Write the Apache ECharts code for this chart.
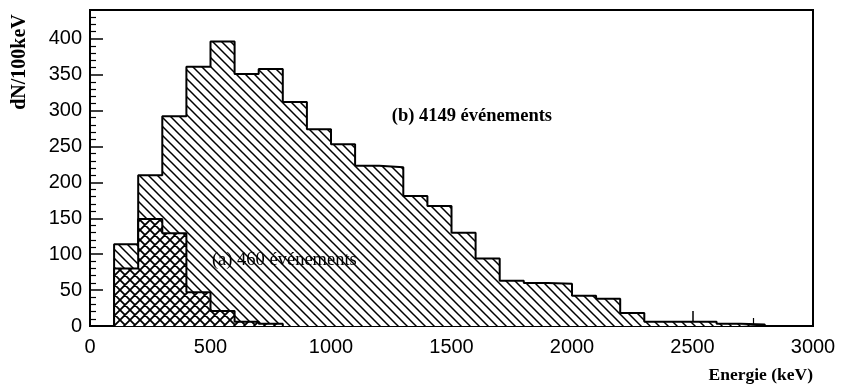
<!DOCTYPE html>
<html><head><meta charset="utf-8">
<script src="https://cdn.jsdelivr.net/npm/echarts@6/dist/echarts.min.js"></script>
<style>html,body{margin:0;padding:0;background:#fff}#c{width:842px;height:390px}</style>
</head><body><div id="c"></div>
<script>
// ---- data (100 keV bins, value = counts per bin, bin given by its lower edge in keV)
const binWidth = 100;
const binStartsB = [100,200,300,400,500,600,700,800,900,1000,1100,1200,1300,1400,1500,1600,1700,1800,1900,2000,2100,2200,2300,2400,2500,2600,2700];
const countsB    = [114,210,292,361,396,351,358,312,274,253,223,221,181,167,130,94,63,60,59,42,38,18,6,6,6,3,2];
const binStartsA = [100,200,300,400,500,600,700];
const countsA    = [80,149,129,47,21,6,3];
const labelB = '(b) 4149 événements';
const labelA = '(a) 460 événements';
const yName = 'dN/100keV';
const xName = 'Energie (keV)';

function stepPoints(starts, vals, w) {
  const pts = [[starts[0], 0]];
  for (let i = 0; i < starts.length; i++) pts.push([starts[i], vals[i]]);
  const end = starts[starts.length - 1] + w;
  pts.push([end, vals[vals.length - 1]]);
  pts.push([end, 0]);
  return pts;
}

function makePattern(size, lw, back, fwd, bg) {
  const c = document.createElement('canvas');
  c.width = size; c.height = size;
  const ctx = c.getContext('2d');
  if (bg) { ctx.fillStyle = bg; ctx.fillRect(0, 0, size, size); }
  ctx.strokeStyle = '#000';
  ctx.lineWidth = lw;
  ctx.beginPath();
  for (const k of [-size, 0, size]) {
    if (back) { ctx.moveTo(k - 2, -2); ctx.lineTo(k + size + 2, size + 2); }
  }
  for (const k of [0, size, 2 * size]) {
    if (fwd) { ctx.moveTo(k + 2, -2); ctx.lineTo(k - size - 2, size + 2); }
  }
  ctx.stroke();
  return { image: c, repeat: 'repeat' };
}

const hatchB = makePattern(9, 1.5, true, false, '#fff');
const hatchA = makePattern(10, 1.8, true, true, '#fff');

const chart = echarts.init(document.getElementById('c'), null, { renderer: 'canvas' });
const tickFont = { fontSize: 20, color: '#000', fontFamily: 'Liberation Sans, Arial, sans-serif' };

chart.setOption({
  animation: false,
  backgroundColor: '#fff',
  grid: { left: 90, right: 29, top: 10, bottom: 64, show: true, borderColor: '#000', borderWidth: 2, backgroundColor: 'transparent' },
  xAxis: {
    type: 'value', min: 0, max: 3000, interval: 500,
    axisLine: { show: true, onZero: false, lineStyle: { color: '#000', width: 2 } },
    axisTick: { show: true, inside: true, length: 15, lineStyle: { color: '#000', width: 1.5 } },
    minorTick: { show: true, splitNumber: 2, length: 8, lineStyle: { color: '#000', width: 1.2 } },
    axisLabel: Object.assign({ margin: 11, formatter: function (v) { return String(v); } }, tickFont),
    splitLine: { show: false }
  },
  yAxis: {
    type: 'value', min: 0, max: 440, interval: 50,
    axisLine: { show: true, lineStyle: { color: '#000', width: 2 } },
    axisTick: { show: true, inside: true, length: 13, lineStyle: { color: '#000', width: 1.5 } },
    minorTick: { show: true, splitNumber: 5, length: 6, lineStyle: { color: '#000', width: 1.2 } },
    axisLabel: Object.assign({ margin: 8, showMaxLabel: false, formatter: function (v) { return String(v); } }, tickFont),
    splitLine: { show: false }
  },
  series: [
    {
      name: 'b', type: 'line', step: 'end', z: 2,
      data: stepPoints(binStartsB, countsB, binWidth),
      showSymbol: false, symbol: 'none',
      lineStyle: { color: '#000', width: 2 },
      areaStyle: { color: hatchB, opacity: 1 }
    },
    {
      name: 'a', type: 'line', step: 'end', z: 3,
      data: stepPoints(binStartsA, countsA, binWidth),
      showSymbol: false, symbol: 'none',
      lineStyle: { color: '#000', width: 2 },
      areaStyle: { color: hatchA, opacity: 1 }
    }
  ]
});

const pB = chart.convertToPixel({ gridIndex: 0 }, [1252, 292]);
const pA = chart.convertToPixel({ gridIndex: 0 }, [506, 92]);
const serif = 'Liberation Serif, Times New Roman, serif';
chart.setOption({
  graphic: [
    { type: 'text', x: pB[0], y: pB[1], z: 10, style: { text: labelB, font: 'bold 18.5px ' + serif, fill: '#000', align: 'left', verticalAlign: 'middle' } },
    { type: 'text', x: pA[0], y: pA[1], z: 10, style: { text: labelA, font: '18.5px ' + serif, fill: '#000', align: 'left', verticalAlign: 'middle' } },
    { type: 'text', x: 20, y: 62, rotation: Math.PI / 2, z: 10, style: { text: yName, font: 'bold 20px ' + serif, fill: '#000', align: 'center', verticalAlign: 'middle' } },
    { type: 'text', x: 813, y: 375, z: 10, style: { text: xName, font: 'bold 17.5px ' + serif, fill: '#000', align: 'right', verticalAlign: 'middle' } }
  ]
});
</script>
</body></html>
